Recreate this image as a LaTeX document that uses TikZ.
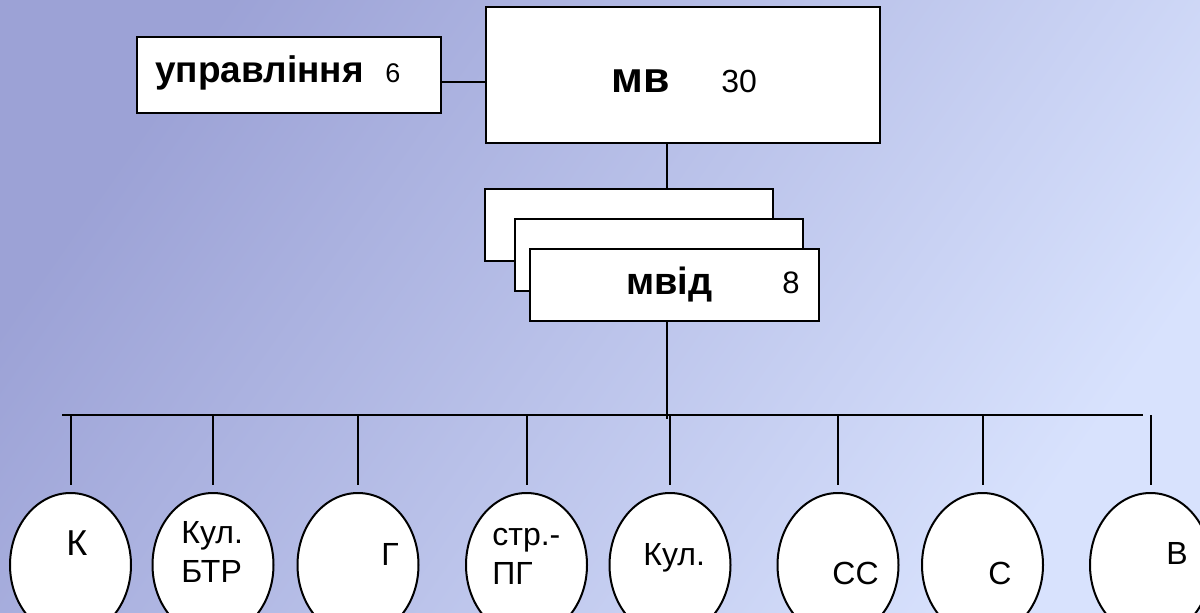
\documentclass[tikz,border=0pt]{standalone}
\usepackage{fontspec}
\setmainfont{Liberation Sans}
\usetikzlibrary{shapes.geometric}

\definecolor{bgdark}{RGB}{156,162,214}
\definecolor{bglight}{RGB}{216,226,253}

\newcommand{\fsz}[1]{\fontsize{#1}{#1}\selectfont}

\tikzstyle{box}=[draw, fill=white, line width=1pt, inner sep=0pt]
\tikzstyle{unit}=[draw, ellipse, fill=white, line width=1pt, minimum width=60.5pt, minimum height=72pt, inner sep=0pt]
\tikzstyle{lbl}=[anchor=base west, inner sep=0pt]
\tikzstyle{two}=[lbl, align=left, font=\fontsize{16}{19.5}\selectfont]
\tikzstyle{line}=[line width=1pt]

\begin{document}
\begin{tikzpicture}[x=0.5pt, y=-0.5pt]
    \useasboundingbox (0,0) rectangle (1200,612);
    \clip (0,0) rectangle (1200,612);
    \fill[left color=bgdark, right color=bglight, shading angle=55] (0,0) rectangle (1200,612);

    % boxes
    \node[box, minimum width=152pt, minimum height=38pt] (upr) at (289,75) {};
    \node[box, minimum width=197pt, minimum height=68pt] (mv) at (683,75) {};
    \node[box, minimum width=144pt, minimum height=36pt] (mvid1) at (629,225) {};
    \node[box, minimum width=144pt, minimum height=36pt] (mvid2) at (659,255) {};
    \node[box, minimum width=144.5pt, minimum height=36pt] (mvid) at (674.5,285) {};

    \node[lbl, font=\bfseries\fsz{18.5}] (upr-txt) at (155,82) {управління};
    \node[lbl, font=\fsz{13.5}] (upr-num) at (385,82) {6};
    \node[lbl, font=\bfseries\fsz{21.5}] (mv-txt) at (611,92) {мв};
    \node[lbl, font=\fsz{16}] (mv-num) at (721,92) {30};
    \node[lbl, font=\bfseries\fsz{19}] (mvid-txt) at (626,294) {мвід};
    \node[lbl, font=\fsz{15.5}] (mvid-num) at (782,293) {8};

    \coordinate (trunk) at (667,415);
    \coordinate (busl) at (62,415);
    \coordinate (busr) at (1143,415);

    \draw[line] ([yshift=-3.5pt]upr.east) -- ([yshift=-3.5pt]upr.east -| mv.west);
    \draw[line] (mv.south -| trunk) -- (mvid1.north -| trunk);
    \draw[line] (mvid.south -| trunk) -- ([yshift=-2pt]trunk);
    \draw[line width=1.2pt] (busl) -- (busr);

    % units
    \foreach \name/\x in {k/70.5, kulbtr/213, g/358, strpg/526.5, kul/670, ss/838, s/982.5, v/1150.5}
        \node[unit] (\name) at (\x,565) {};
    \foreach \name in {k,kulbtr,g,strpg,kul,ss,s,v}
        \draw[line] (\name.north |- trunk) -- ([yshift=3.5pt]\name.north);

    \node[lbl, font=\fsz{18}] (k-txt) at (66,555) {К};
    \node[two] (kulbtr-txt) at (181,582) {Кул.\\БТР};
    \node[lbl, font=\fsz{16}] (g-txt) at (381,565) {Г};
    \node[two] (strpg-txt) at (492,584) {стр.-\\ПГ};
    \node[lbl, font=\fsz{16}] (kul-txt) at (643,565) {Кул.};
    \node[lbl, font=\fsz{16}] (ss-txt) at (832,584) {СС};
    \node[lbl, font=\fsz{16}] (s-txt) at (988,584) {С};
    \node[lbl, font=\fsz{16}] (v-txt) at (1166,564) {В};
\end{tikzpicture}
\end{document}
